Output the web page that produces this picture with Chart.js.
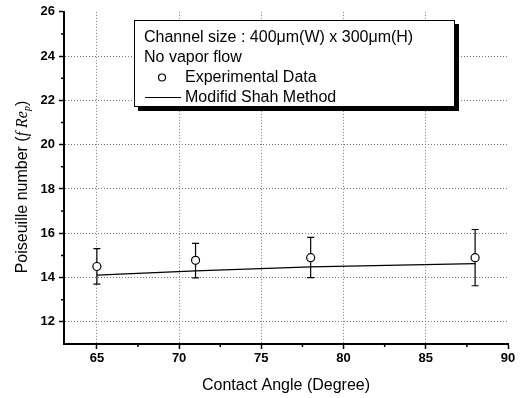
<!DOCTYPE html>
<html>
<head>
<meta charset="utf-8">
<script src="https://cdn.jsdelivr.net/npm/chart.js@4"></script>
<style>
html,body{margin:0;padding:0;background:#fff;}
#wrap{width:524px;height:398px;position:relative;}
</style>
</head>
<body>
<div id="wrap"><canvas id="c" width="524" height="398"></canvas></div>
<script>
// ---- data ----
const angles = [65, 71, 78, 88];
const poiseuille = [14.5, 14.78, 14.9, 14.9];
const errLow = [13.7, 13.99, 14.0, 13.63];
const errHigh = [15.31, 15.54, 15.81, 16.17];
const shahAngles = [65, 71, 78, 88];
const shahValues = [14.11, 14.3, 14.48, 14.63];
const xTicks = [65, 70, 75, 80, 85, 90];
const yTicks = [12, 14, 16, 18, 20, 22, 24, 26];
const xMinor = [67.5, 72.5, 77.5, 82.5, 87.5];
const yMinor = [13, 15, 17, 19, 21, 23, 25];
const legendLines = ["Channel size : 400\u03bcm(W) x 300\u03bcm(H)", "No vapor flow", "Experimental Data", "Modifid Shah Method"];
const xTitle = "Contact Angle (Degree)";

const FONT = "'Liberation Sans', Arial, Helvetica, sans-serif";

const extras = {
  id: 'extras',
  afterDatasetsDraw(chart) {
    const ctx = chart.ctx;
    const xs = chart.scales.x, ys = chart.scales.y;
    const ca = chart.chartArea;
    ctx.save();
    // error bars
    ctx.strokeStyle = '#000';
    ctx.lineWidth = 1.2;
    angles.forEach((a, i) => {
      const px = xs.getPixelForValue(a);
      const yl = ys.getPixelForValue(errLow[i]);
      const yh = ys.getPixelForValue(errHigh[i]);
      const yc = ys.getPixelForValue(poiseuille[i]);
      ctx.beginPath();
      ctx.moveTo(px, yh); ctx.lineTo(px, yc - 4.5);
      ctx.moveTo(px, yc + 4.5); ctx.lineTo(px, yl);
      ctx.moveTo(px - 3.5, yh); ctx.lineTo(px + 3.5, yh);
      ctx.moveTo(px - 3.5, yl); ctx.lineTo(px + 3.5, yl);
      ctx.stroke();
    });
    // minor ticks
    ctx.lineWidth = 1.5;
    ctx.beginPath();
    xMinor.forEach(v => {
      const px = xs.getPixelForValue(v);
      ctx.moveTo(px, ca.bottom); ctx.lineTo(px, ca.bottom + 3);
    });
    yMinor.forEach(v => {
      const py = ys.getPixelForValue(v);
      ctx.moveTo(ca.left, py); ctx.lineTo(ca.left - 3, py);
    });
    ctx.stroke();

    // legend box
    const L = 134, T = 20, R = 455, B = 107;
    ctx.fillStyle = '#000';
    ctx.fillRect(L + 4, B, R - L, 4);
    ctx.fillRect(R, T + 4, 4, B - T);
    ctx.fillStyle = '#fff';
    ctx.fillRect(L, T, R - L, B - T);
    ctx.strokeStyle = '#000';
    ctx.lineWidth = 1;
    ctx.strokeRect(L + 0.5, T + 0.5, R - L - 1, B - T - 1);
    ctx.fillStyle = '#000';
    ctx.font = '16px ' + FONT;
    ctx.textBaseline = 'middle';
    ctx.textAlign = 'left';
    ctx.fillText(legendLines[0], 144, 38);
    ctx.fillText(legendLines[1], 144, 57.5);
    ctx.fillText(legendLines[2], 185, 77.5);
    ctx.fillText(legendLines[3], 185, 97.5);
    ctx.beginPath();
    ctx.lineWidth = 1.2;
    ctx.arc(162, 77.5, 3.5, 0, Math.PI * 2);
    ctx.stroke();
    ctx.beginPath();
    ctx.moveTo(145, 97.5); ctx.lineTo(181, 97.5);
    ctx.stroke();

    // x title
    ctx.font = '16px ' + FONT;
    ctx.textAlign = 'center';
    ctx.fillText(xTitle, (ca.left + ca.right) / 2, 386);

    // y title with mixed fonts
    ctx.translate(23, 187);
    ctx.rotate(-Math.PI / 2);
    const parts = [
      {t: 'Poiseuille number (', f: '16px ' + FONT, dy: 0},
      {t: 'f Re', f: 'italic 16px "Liberation Serif", "Times New Roman", serif', dy: 0},
      {t: 'p', f: 'italic 10px "Liberation Serif", "Times New Roman", serif', dy: 4},
      {t: ')', f: '16px ' + FONT, dy: 0}
    ];
    let total = 0;
    parts.forEach(p => { ctx.font = p.f; p.w = ctx.measureText(p.t).width; total += p.w; });
    let x = -total / 2;
    ctx.textAlign = 'left';
    parts.forEach(p => { ctx.font = p.f; ctx.fillText(p.t, x, p.dy); x += p.w; });
    ctx.restore();
  }
};

new Chart(document.getElementById('c'), {
  type: 'scatter',
  data: {
    datasets: [
      {
        label: 'Modifid Shah Method',
        data: shahAngles.map((a, i) => ({x: a, y: shahValues[i]})),
        showLine: true,
        borderColor: '#000',
        borderWidth: 1.3,
        pointRadius: 0,
        fill: false
      },
      {
        label: 'Experimental Data',
        data: angles.map((a, i) => ({x: a, y: poiseuille[i]})),
        pointRadius: 4,
        pointBorderWidth: 1.2,
        pointBorderColor: '#000',
        pointBackgroundColor: '#fff'
      }
    ]
  },
  options: {
    responsive: false,
    animation: false,
    layout: {padding: {left: 0, top: 11, right: 16, bottom: 0}},
    plugins: {legend: {display: false}, tooltip: {enabled: false}},
    scales: {
      x: {
        type: 'linear', min: 63, max: 90,
        afterBuildTicks: s => { s.ticks = xTicks.map(v => ({value: v})); },
        afterFit: s => { s.height = 54; },
        border: {color: '#000', width: 2, dash: [1, 2]},
        grid: {
          color: c => (c.tick && c.tick.value === 90) ? 'rgba(0,0,0,0)' : '#777',
          lineWidth: 1,
          tickColor: '#000', tickLength: 5, tickBorderDash: [], tickWidth: 1.5
        },
        ticks: {color: '#000', font: {family: FONT, size: 13, weight: 'bold'}, padding: 2, maxRotation: 0}
      },
      y: {
        type: 'linear', min: 11, max: 26,
        afterBuildTicks: s => { s.ticks = yTicks.map(v => ({value: v})); },
        afterFit: s => { s.width = 64; },
        border: {color: '#000', width: 2, dash: [1, 2]},
        grid: {
          color: c => (c.tick && c.tick.value === 26) ? 'rgba(0,0,0,0)' : '#777',
          lineWidth: 1,
          tickColor: '#000', tickLength: 5, tickBorderDash: [], tickWidth: 1.5
        },
        ticks: {color: '#000', font: {family: FONT, size: 13, weight: 'bold'}, padding: 4}
      }
    }
  },
  plugins: [extras]
});
</script>
</body>
</html>
